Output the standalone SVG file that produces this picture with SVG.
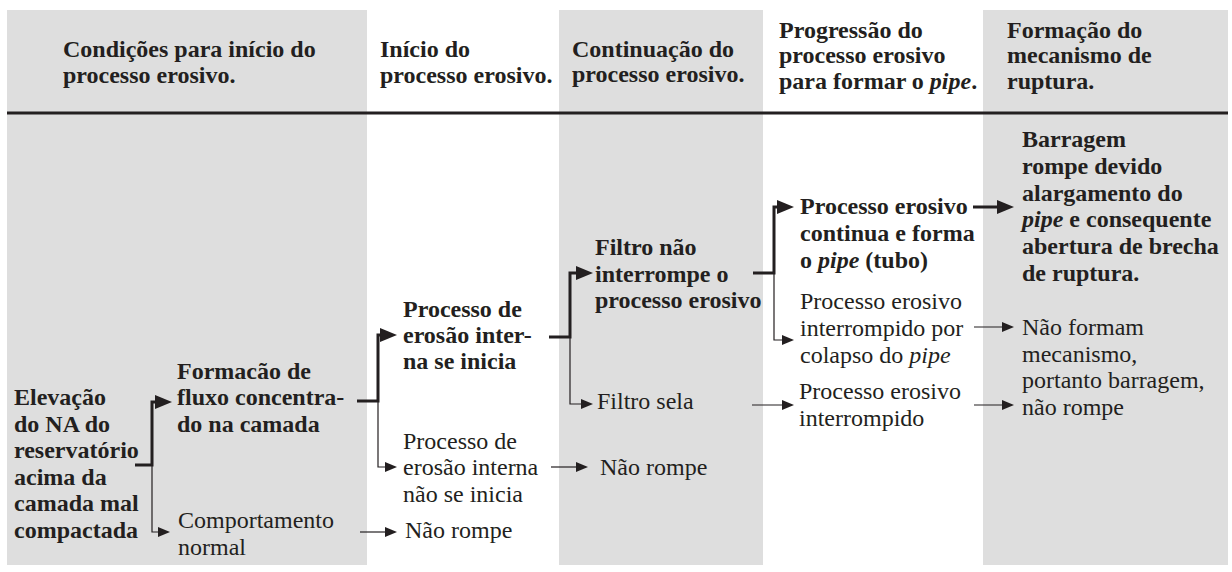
<svg xmlns="http://www.w3.org/2000/svg" width="1232" height="572" viewBox="0 0 1232 572">
<defs>
<style>
.band{fill:#dedede}
text{font-family:"Liberation Serif","Times New Roman",serif;font-size:24px;fill:#231f20}
.b{font-weight:bold}
.i{font-style:italic}
.thick{fill:none;stroke:#231f20;stroke-width:3}
.thin{fill:none;stroke:#231f20;stroke-width:1.2}
.rule{stroke:#231f20;stroke-width:3}
</style>
<marker id="ah" markerUnits="userSpaceOnUse" markerWidth="17" markerHeight="14" refX="9" refY="7" orient="auto"><path d="M0,0 L17,7 L0,14 z" fill="#231f20"/></marker>
<marker id="at" markerUnits="userSpaceOnUse" markerWidth="12" markerHeight="10" refX="6" refY="5" orient="auto"><path d="M0,0 L12,5 L0,10 z" fill="#231f20"/></marker>
</defs>
<rect width="1232" height="572" fill="#ffffff"/>
<g id="bands">
<rect class="band" x="7" y="10" width="360" height="555"/>
<rect class="band" x="559" y="10" width="204" height="555"/>
<rect class="band" x="983" y="10" width="245" height="555"/>
<line class="rule" x1="7" y1="113" x2="1228" y2="113"/>
</g>
<g id="headers">
<text class="b" x="63" y="57">Condições para início do</text>
<text class="b" x="63" y="83">processo erosivo.</text>
<text class="b" x="380" y="57">Início do</text>
<text class="b" x="380" y="83">processo erosivo.</text>
<text class="b" x="572" y="57">Continuação do</text>
<text class="b" x="572" y="82">processo erosivo.</text>
<text class="b" x="779" y="38">Progressão do</text>
<text class="b" x="779" y="63">processo erosivo</text>
<text class="b" x="779" y="89">para formar o <tspan class="i">pipe</tspan>.</text>
<text class="b" x="1007" y="38">Formação do</text>
<text class="b" x="1007" y="63">mecanismo de</text>
<text class="b" x="1007" y="89">ruptura.</text>
</g>
<g id="connectors">
<path class="thick" d="M135,465 H152 V402 H164" marker-end="url(#ah)"/>
<path class="thick" d="M357,401 H378 V335 H389" marker-end="url(#ah)"/>
<path class="thick" d="M549,337 H570 V273 H585" marker-end="url(#ah)"/>
<path class="thick" d="M753,273 H774 V207 H786" marker-end="url(#ah)"/>
<path class="thick" d="M973,207 H1006" marker-end="url(#ah)"/>
<path class="thin" d="M152,465 V532 H164" marker-end="url(#at)"/>
<path class="thin" d="M378,401 V467 H391" marker-end="url(#at)"/>
<path class="thin" d="M360,532 H391" marker-end="url(#at)"/>
<path class="thin" d="M570,337 V404 H587" marker-end="url(#at)"/>
<path class="thin" d="M551,467 H582" marker-end="url(#at)"/>
<path class="thin" d="M774,273 V340 H788" marker-end="url(#at)"/>
<path class="thin" d="M752,405 H788" marker-end="url(#at)"/>
<path class="thin" d="M974,327 H1008" marker-end="url(#at)"/>
<path class="thin" d="M974,405 H1008" marker-end="url(#at)"/>
</g>
<g id="elevacao">
<text class="b" x="14" y="405">Elevação</text>
<text class="b" x="14" y="432">do NA do</text>
<text class="b" x="14" y="458">reservatório</text>
<text class="b" x="14" y="485">acima da</text>
<text class="b" x="14" y="511">camada mal</text>
<text class="b" x="14" y="538">compactada</text>
</g>
<g id="formacao">
<text class="b" x="177" y="379">Formacão de</text>
<text class="b" x="177" y="405">fluxo concentra-</text>
<text class="b" x="177" y="432">do na camada</text>
</g>
<g id="comportamento">
<text x="178" y="528">Comportamento</text>
<text x="178" y="555">normal</text>
</g>
<g id="erosao-inicia">
<text class="b" x="403" y="317">Processo de</text>
<text class="b" x="403" y="343">erosão inter-</text>
<text class="b" x="403" y="369">na se inicia</text>
</g>
<g id="erosao-nao-inicia">
<text x="403" y="449">Processo de</text>
<text x="403" y="475">erosão interna</text>
<text x="403" y="502">não se inicia</text>
</g>
<g id="nao-rompe-1">
<text x="405" y="538">Não rompe</text>
</g>
<g id="filtro-nao-interrompe">
<text class="b" x="595" y="255">Filtro não</text>
<text class="b" x="595" y="282">interrompe o</text>
<text class="b" x="595" y="308">processo erosivo</text>
</g>
<g id="filtro-sela">
<text x="597" y="409">Filtro sela</text>
</g>
<g id="nao-rompe-2">
<text x="600" y="475">Não rompe</text>
</g>
<g id="forma-pipe">
<text class="b" x="800" y="214">Processo erosivo</text>
<text class="b" x="800" y="241">continua e forma</text>
<text class="b" x="800" y="268">o <tspan class="i">pipe</tspan> (tubo)</text>
</g>
<g id="colapso-pipe">
<text x="800" y="309">Processo erosivo</text>
<text x="800" y="336">interrompido por</text>
<text x="800" y="363">colapso do <tspan class="i">pipe</tspan></text>
</g>
<g id="interrompido">
<text x="799" y="399">Processo erosivo</text>
<text x="799" y="426">interrompido</text>
</g>
<g id="barragem-rompe">
<text class="b" x="1022" y="147">Barragem</text>
<text class="b" x="1022" y="174">rompe devido</text>
<text class="b" x="1022" y="201">alargamento do</text>
<text class="b" x="1022" y="227"><tspan class="i">pipe</tspan> e consequente</text>
<text class="b" x="1022" y="254">abertura de brecha</text>
<text class="b" x="1022" y="281">de ruptura.</text>
</g>
<g id="nao-formam">
<text x="1022" y="335">Não formam</text>
<text x="1022" y="362">mecanismo,</text>
<text x="1022" y="388">portanto barragem,</text>
<text x="1022" y="415">não rompe</text>
</g>
</svg>
